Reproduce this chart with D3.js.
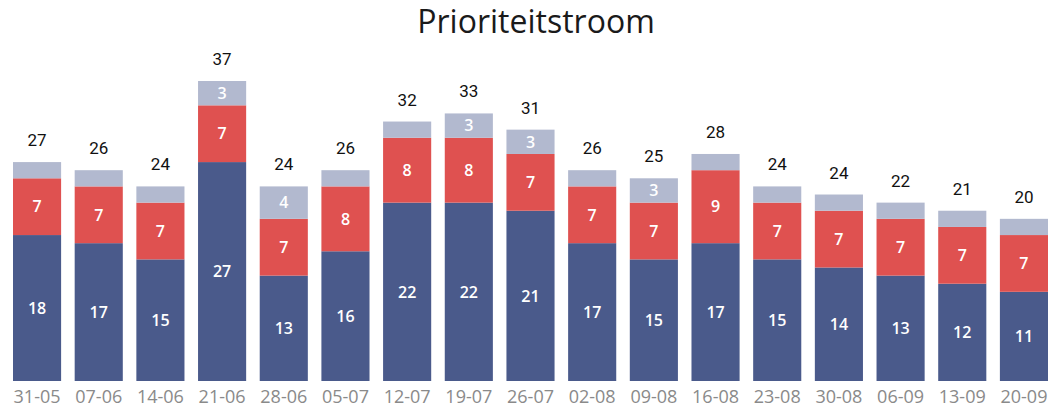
<!DOCTYPE html>
<html>
<head>
<meta charset="utf-8">
<script src="https://cdn.jsdelivr.net/npm/d3@7"></script>
<style>
  body { margin: 0; background: #fff; }
  svg { display: block; }
</style>
</head>
<body>
<svg id="chart" width="1056" height="417"></svg>
<script>
const weeks = ["31-05","07-06","14-06","21-06","28-06","05-07","12-07","19-07","26-07","02-08","09-08","16-08","23-08","30-08","06-09","13-09","20-09"]
const blue  = [18,17,15,27,13,16,22,22,21,17,15,17,15,14,13,12,11]
const red   = [7,7,7,7,7,8,8,8,7,7,7,9,7,7,7,7,7]
const grey  = [2,2,2,3,4,2,2,3,3,2,3,2,2,2,2,2,2]
const totals = [27,26,24,37,24,26,32,33,31,26,25,28,24,24,22,21,20]

const colors = { blue: "#4a5a8b", red: "#df5150", grey: "#b2b9cf" }

const svg = d3.select("#chart")
const width = 1056, height = 417
const margin = { top: 60, right: 8, bottom: 36, left: 13 }
const baseY = height - margin.bottom

const rows = weeks.map((w, i) => ({ week: w, blue: blue[i], red: red[i], grey: grey[i], total: totals[i] }))
const keys = ["blue", "red", "grey"]
const series = d3.stack().keys(keys)(rows)

const x = d3.scaleBand()
    .domain(weeks)
    .range([margin.left, width - margin.right])
    .paddingInner(0.22)
    .paddingOuter(0)

const y = d3.scaleLinear()
    .domain([0, 37])
    .range([baseY, baseY - 300])

svg.append("text")
    .attr("x", width / 2 + 8)
    .attr("y", 33)
    .attr("text-anchor", "middle")
    .style("font-family", "'Open Sans', sans-serif")
    .style("font-size", "32px")
    .style("fill", "#1a1a1a")
    .text("Prioriteitstroom")

const g = svg.append("g")

g.selectAll(".layer")
  .data(series)
  .enter().append("g")
    .attr("class", "layer")
    .attr("fill", d => colors[d.key])
  .selectAll("rect")
  .data(d => d)
  .enter().append("rect")
    .attr("x", d => x(d.data.week))
    .attr("y", d => y(d[1]))
    .attr("width", x.bandwidth())
    .attr("height", d => y(d[0]) - y(d[1]))

// segment labels (the small grey ones are left out, like in the original)
series.forEach(s => {
    g.selectAll(".lbl-" + s.key)
      .data(s.filter(d => s.key !== "grey" || d.data.grey >= 3))
      .enter().append("text")
        .attr("class", "lbl-" + s.key)
        .attr("x", d => x(d.data.week) + x.bandwidth() / 2)
        .attr("y", d => (y(d[0]) + y(d[1])) / 2)
        .attr("dy", "0.36em")
        .attr("text-anchor", "middle")
        .style("font-family", "'Open Sans', sans-serif")
        .style("font-weight", "600")
        .style("font-size", "16px")
        .style("fill", "#fff")
        .text(d => d.data[s.key])
})

g.selectAll(".total")
  .data(rows)
  .enter().append("text")
    .attr("class", "total")
    .attr("x", d => x(d.week) + x.bandwidth() / 2)
    .attr("y", d => y(d.blue + d.red + d.grey) - 16)
    .attr("text-anchor", "middle")
    .style("font-family", "Roboto, sans-serif")
    .style("font-size", "17px")
    .style("fill", "#111")
    .text(d => d.total)

const xAxis = svg.append("g")
    .attr("transform", `translate(0,${baseY})`)
    .call(d3.axisBottom(x).tickSize(0).tickPadding(9))

xAxis.select(".domain").remove()
xAxis.selectAll("text")
    .style("font-family", "'Open Sans', sans-serif")
    .style("font-size", "18px")
    .style("fill", "#8a8a8a")
</script>
</body>
</html>
